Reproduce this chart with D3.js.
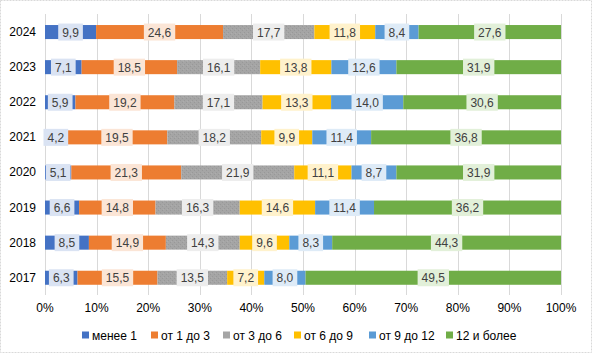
<!DOCTYPE html>
<html>
<head>
<meta charset="utf-8">
<script src="https://cdn.jsdelivr.net/npm/d3@7"></script>
<style>
  body { margin: 0; background: #fff; }
  text { font-family: "Liberation Sans", Arial, sans-serif; }
</style>
</head>
<body>
<script>
// Годы сверху вниз, как на картинке
const anos = ["2024", "2023", "2022", "2021", "2020", "2019", "2018", "2017"];
const series = ["менее 1", "от 1 до 3", "от 3 до 6", "от 6 до 9", "от 9 до 12", "12 и более"];

const menee1   = [9.9, 7.1, 5.9, 4.2, 5.1, 6.6, 8.5, 6.3];
const ot1do3   = [24.6, 18.5, 19.2, 19.5, 21.3, 14.8, 14.9, 15.5];
const ot3do6   = [17.7, 16.1, 17.1, 18.2, 21.9, 16.3, 14.3, 13.5];
const ot6do9   = [11.8, 13.8, 13.3, 9.9, 11.1, 14.6, 9.6, 7.2];
const ot9do12  = [8.4, 12.6, 14.0, 11.4, 8.7, 11.4, 8.3, 8.0];
const ot12     = [27.6, 31.9, 30.6, 36.8, 31.9, 36.2, 44.3, 49.5];

const ticksX = [0, 10, 20, 30, 40, 50, 60, 70, 80, 90, 100];

const colores = ["#4472c4", "#ed7d31", "#a5a5a5", "#ffc000", "#5b9bd5", "#70ad47"];
const fondos  = ["#dae3f3", "#fbe5d6", "#ededed", "#fff2cc", "#deebf7", "#e2f0d9"];

// tabla para d3.stack
const tabla = anos.map((a, i) => ({
  ano: a,
  [series[0]]: menee1[i],
  [series[1]]: ot1do3[i],
  [series[2]]: ot3do6[i],
  [series[3]]: ot6do9[i],
  [series[4]]: ot9do12[i],
  [series[5]]: ot12[i],
}));

const apilado = d3.stack().keys(series).offset(d3.stackOffsetExpand)(tabla);

const svg = d3.select("body").append("svg")
  .attr("width", 592)
  .attr("height", 354);

// textura suave del gris
const defs = svg.append("defs");
const pat = defs.append("pattern")
  .attr("id", "gris")
  .attr("width", 4).attr("height", 4)
  .attr("patternUnits", "userSpaceOnUse");
pat.append("rect").attr("width", 4).attr("height", 4).attr("fill", "#a5a5a5");
pat.append("rect").attr("x", 0).attr("y", 0).attr("width", 1).attr("height", 1).attr("fill", "#989898");
pat.append("rect").attr("x", 2).attr("y", 2).attr("width", 1).attr("height", 1).attr("fill", "#989898");
pat.append("rect").attr("x", 3).attr("y", 1).attr("width", 1).attr("height", 1).attr("fill", "#adadad");

// borde del área del gráfico
svg.append("rect")
  .attr("x", 0.5).attr("y", 0.5)
  .attr("width", 591).attr("height", 352)
  .attr("fill", "none")
  .attr("stroke", "#d9d9d9")
  .attr("stroke-dasharray", "2,1");

const x = d3.scaleLinear().domain([0, 1]).range([45, 561]);
const y = d3.scaleBand().domain(anos).range([14.5, 295.3])
  .paddingInner(0.6).paddingOuter(0.3);

// grilla
svg.append("g")
  .selectAll("line")
  .data(ticksX)
  .join("line")
  .attr("x1", d => Math.round(x(d / 100)) + 0.5)
  .attr("x2", d => Math.round(x(d / 100)) + 0.5)
  .attr("y1", 14)
  .attr("y2", 295)
  .attr("stroke", "#d9d9d9")
  .attr("stroke-width", 1);

// eje X
svg.append("g")
  .selectAll("text")
  .data(ticksX)
  .join("text")
  .attr("x", d => x(d / 100))
  .attr("y", 312)
  .attr("text-anchor", "middle")
  .attr("font-size", 12)
  .attr("fill", "#000")
  .text(d => d + "%");

// eje Y
svg.append("g")
  .selectAll("text")
  .data(anos)
  .join("text")
  .attr("x", 36)
  .attr("y", d => y(d) + y.bandwidth() / 2 + 4)
  .attr("text-anchor", "end")
  .attr("font-size", 12)
  .attr("fill", "#000")
  .text(d => d);

// barras
const capas = svg.append("g")
  .selectAll("g")
  .data(apilado)
  .join("g")
  .attr("fill", (d, i) => i === 2 ? "url(#gris)" : colores[i]);

capas.selectAll("rect")
  .data(d => d)
  .join("rect")
  .attr("x", d => x(d[0]))
  .attr("y", d => y(d.data.ano))
  .attr("width", d => x(d[1]) - x(d[0]))
  .attr("height", y.bandwidth());

// etiquetas con fondo
const fmt = v => v.toFixed(1).replace(".", ",");
apilado.forEach((capa, i) => {
  const g = svg.append("g");
  capa.forEach(d => {
    const valor = d.data[series[i]];
    const cx = (x(d[0]) + x(d[1])) / 2;
    const cy = y(d.data.ano) + y.bandwidth() / 2;
    const t = g.append("text")
      .attr("x", cx)
      .attr("y", cy + 4.5)
      .attr("text-anchor", "middle")
      .attr("font-size", 12)
      .attr("fill", "#404040")
      .text(fmt(valor));
    const w = t.node().getComputedTextLength() + 8;
    g.insert("rect", "text")
      .attr("x", cx - w / 2)
      .attr("y", cy - 8.5)
      .attr("width", w)
      .attr("height", 17)
      .attr("fill", fondos[i]);
  });
});

// leyenda
const posLeyenda = [82, 151, 223, 294, 369, 446];
const ley = svg.append("g")
  .selectAll("g")
  .data(series)
  .join("g")
  .attr("transform", (d, i) => `translate(${posLeyenda[i]}, 335)`);

ley.append("rect")
  .attr("x", 0).attr("y", -3.5)
  .attr("width", 7).attr("height", 7)
  .attr("fill", (d, i) => colores[i]);

ley.append("text")
  .attr("x", 10)
  .attr("y", 4.5)
  .attr("font-size", 12)
  .attr("fill", "#000")
  .text(d => d);
</script>
</body>
</html>
